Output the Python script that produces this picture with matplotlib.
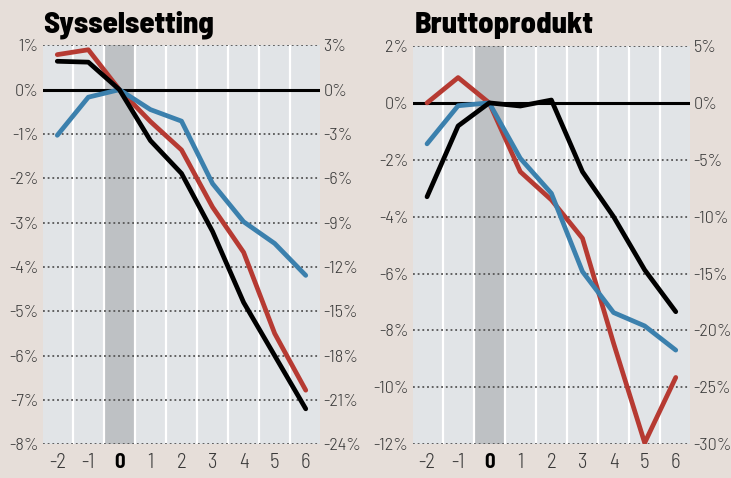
import matplotlib
matplotlib.use("Agg")
import matplotlib.pyplot as plt
import numpy as np

years = [-2, -1, 0, 1, 2, 3, 4, 5, 6]
xlabels = ["-2", "-1", "0", "1", "2", "3", "4", "5", "6"]

# Sysselsetting (left axis units, %)
emp_black = [0.64, 0.62, 0.0, -1.15, -1.89, -3.2, -4.8, -6.0, -7.2]
emp_red = [0.79, 0.90, 0.0, -0.72, -1.36, -2.65, -3.67, -5.5, -6.78]
emp_blue = [-1.03, -0.17, 0.0, -0.45, -0.71, -2.12, -2.98, -3.47, -4.19]

# Bruttoprodukt (left axis units, %)
gdp_black = [-3.30, -0.81, 0.0, -0.11, 0.10, -2.42, -4.0, -5.87, -7.34]
gdp_red = [0.0, 0.89, 0.0, -2.42, -3.41, -4.76, -8.45, -11.95, -9.65]
gdp_blue = [-1.44, -0.10, 0.0, -1.95, -3.18, -5.93, -7.37, -7.84, -8.69]

emp_left_ticks = [1, 0, -1, -2, -3, -4, -5, -6, -7, -8]
emp_right_ticks = [3, 0, -3, -6, -9, -12, -15, -18, -21, -24]
gdp_left_ticks = [2, 0, -2, -4, -6, -8, -10, -12]
gdp_right_ticks = [5, 0, -5, -10, -15, -20, -25, -30]

BG = "#e6ded9"
PLOT_BG = "#e1e4e7"
BAND = "#bec1c4"
RED = "#b63a32"
BLUE = "#3b80ad"
TXT = "#3a3a3a"
FONT = ["Barlow Semi Condensed", "DejaVu Sans"]
TITLE_FONT = ["Barlow Semi Condensed", "DejaVu Sans"]

plt.rcParams["font.family"] = FONT
plt.rcParams["font.weight"] = 300

fig = plt.figure(figsize=(7.31, 4.78), dpi=100, facecolor=BG)


def panel(rect, title, left_ticks, right_ticks, factor, black, red, blue, title_x):
    ax = fig.add_axes(rect)
    ax.set_facecolor(PLOT_BG)
    ax.set_xlim(-2.46, 6.46)
    ax.set_ylim(left_ticks[-1], left_ticks[0])
    for s in ax.spines.values():
        s.set_visible(False)
    ax.axvspan(-0.5, 0.5, color=BAND, zorder=1, lw=0)
    for gx in np.arange(-1.5, 6.0, 1.0):
        ax.axvline(gx, color="white", lw=1.6, zorder=1.5)
    for t in left_ticks:
        if t == 0:
            continue
        ax.axhline(t, color="#555555", lw=1.3, ls=(0, (1, 1.6)), zorder=2)
    ax.axhline(0, color="black", lw=2.2, zorder=2.5)
    ax.plot(years, red, color=RED, lw=3.4, zorder=4, solid_capstyle="round", solid_joinstyle="round")
    ax.plot(years, blue, color=BLUE, lw=3.4, zorder=4, solid_capstyle="round", solid_joinstyle="round")
    ax.plot(years, black, color="black", lw=3.4, zorder=5, solid_capstyle="round", solid_joinstyle="round")
    ax.set_yticks(left_ticks)
    ax.set_yticklabels([f"{t}%" for t in left_ticks])
    ax.set_xticks(years)
    ax.set_xticklabels(xlabels)
    ax.tick_params(axis="y", length=0, labelsize=13, colors=TXT, pad=3)
    ax.tick_params(axis="x", length=0, labelsize=15, colors=TXT, pad=6)
    for lab in ax.get_xticklabels():
        if lab.get_text() == "0":
            lab.set_fontweight("bold")
            lab.set_color("black")
    ax2 = ax.twinx()
    ax2.set_ylim(left_ticks[-1] * factor, left_ticks[0] * factor)
    ax2.set_yticks(right_ticks)
    ax2.set_yticklabels([f"{t}%" for t in right_ticks])
    ax2.tick_params(length=0, labelsize=13, colors=TXT, pad=2.5)
    for s in ax2.spines.values():
        s.set_visible(False)
    fig.text(title_x, 0.931, title, fontsize=22, fontweight=800, color="black",
             va="baseline", ha="left", family=TITLE_FONT)
    return ax


panel([0.0588, 0.0705, 0.379, 0.8347], "Sysselsetting", emp_left_ticks, emp_right_ticks, 3,
      emp_black, emp_red, emp_blue, 0.059)
panel([0.5646, 0.0705, 0.3794, 0.8333], "Bruttoprodukt", gdp_left_ticks, gdp_right_ticks, 2.5,
      gdp_black, gdp_red, gdp_blue, 0.568)

fig.savefig("out.png", dpi=100, facecolor=BG)
